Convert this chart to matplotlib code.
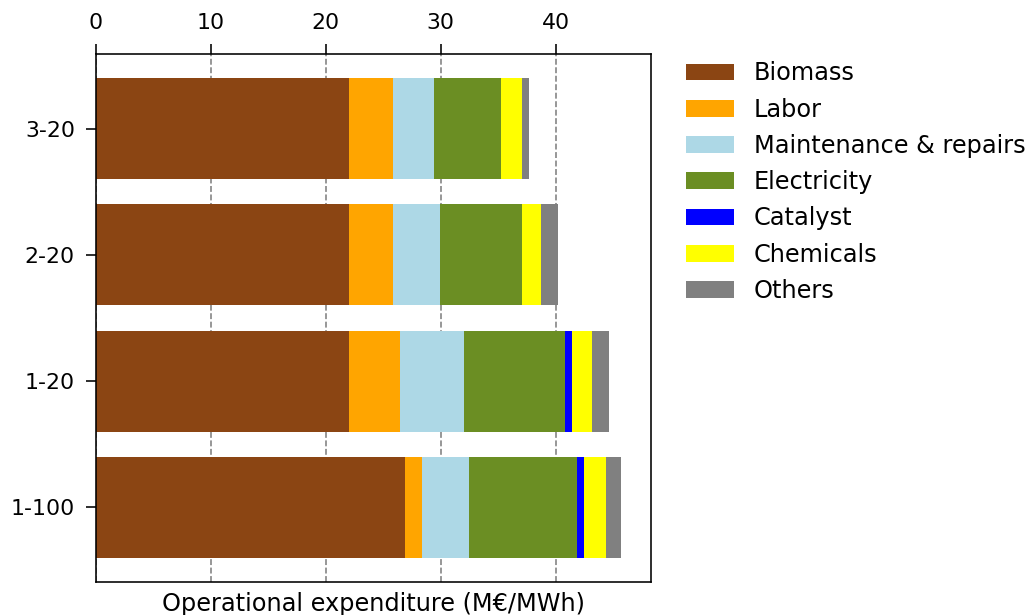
import matplotlib
matplotlib.use("Agg")
import matplotlib.pyplot as plt
import numpy as np

scenarios = ["1-100", "1-20", "2-20", "3-20"]
components = ["Biomass", "Labor", "Maintenance & repairs", "Electricity",
              "Catalyst", "Chemicals", "Others"]
colors = ["#8B4513", "orange", "lightblue", "olivedrab", "blue", "yellow", "grey"]

# values per scenario (order: 1-100, 1-20, 2-20, 3-20)
biomass     = [26.9, 22.0, 22.0, 22.0]
labor       = [1.5, 4.45, 3.85, 3.85]
maintenance = [4.1, 5.6, 4.1, 3.6]
electricity = [9.4, 8.8, 7.1, 5.8]
catalyst    = [0.6, 0.6, 0.0, 0.0]
chemicals   = [1.85, 1.7, 1.65, 1.8]
others      = [1.3, 1.5, 1.5, 0.6]

series = [biomass, labor, maintenance, electricity, catalyst, chemicals, others]

DPI = 144
fig = plt.figure(figsize=(1033 / DPI, 615 / DPI), dpi=DPI)
ax = fig.add_axes([96 / 1033, 1 - 582 / 615, (651 - 96) / 1033, (582 - 54) / 615])

y = np.arange(len(scenarios))
left = np.zeros(len(scenarios))
for name, vals, c in zip(components, series, colors):
    vals = np.array(vals)
    ax.barh(y, vals, left=left, height=0.8, color=c, label=name)
    left += vals

ax.set_yticks(y)
ax.set_yticklabels(scenarios, fontsize=11)
ax.xaxis.tick_top()
ax.set_xticks([0, 10, 20, 30, 40])
ax.tick_params(axis="both", which="major", length=5, pad=5.5)
ax.tick_params(axis="x", labelsize=11)
ax.set_xlim(0, 48.3)
ax.set_xlabel("Operational expenditure (M€/MWh)", fontsize=12, labelpad=5)
ax.set_axisbelow(True)
ax.grid(axis="x", linestyle="--", color="grey")

ax.legend(loc="upper left", bbox_to_anchor=(1.025, 1.027), frameon=False,
          fontsize=12, labelspacing=0.51)

fig.savefig("out.png", dpi=DPI)
